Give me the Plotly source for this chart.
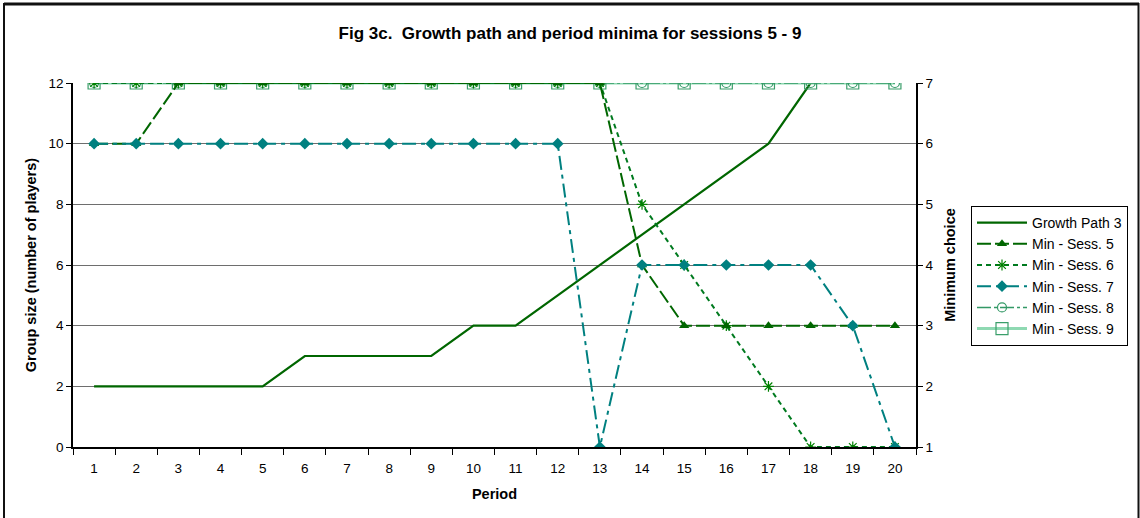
import plotly.graph_objects as go

periods = list(range(1, 21))
growth_path_3 = [2, 2, 2, 2, 2, 3, 3, 3, 3, 4, 4, 5, 6, 7, 8, 9, 10, 12, 12, 12]
min_sess5 = [6, 6, 7, 7, 7, 7, 7, 7, 7, 7, 7, 7, 7, 4, 3, 3, 3, 3, 3, 3]
min_sess6 = [7, 7, 7, 7, 7, 7, 7, 7, 7, 7, 7, 7, 7, 5, 4, 3, 2, 1, 1, 1]
min_sess7 = [6, 6, 6, 6, 6, 6, 6, 6, 6, 6, 6, 6, 1, 4, 4, 4, 4, 4, 3, 1]
min_sess8 = [7] * 20
min_sess9 = [7] * 20

left_ticks = [0, 2, 4, 6, 8, 10, 12]
right_ticks = [1, 2, 3, 4, 5, 6, 7]

FONT = "Liberation Sans, Arial, sans-serif"

fig = go.Figure()

fig.add_trace(go.Scatter(x=periods, y=min_sess9, name="Min - Sess. 9", yaxis="y2",
                         mode="lines+markers",
                         line=dict(color="#8fd9b2", width=3),
                         marker=dict(symbol="square-open", size=12, color="#3a9e6a", line=dict(width=1.2))))
fig.add_trace(go.Scatter(x=periods, y=min_sess8, name="Min - Sess. 8", yaxis="y2",
                         mode="lines+markers",
                         line=dict(color="#339966", width=1.5, dash="14px,3px,3px,3px"),
                         marker=dict(symbol="circle-open", size=9, color="#339966", line=dict(width=1.2))))
fig.add_trace(go.Scatter(x=periods, y=min_sess6, name="Min - Sess. 6", yaxis="y2",
                         mode="lines+markers",
                         line=dict(color="#007a1f", width=2, dash="5px,4px"),
                         marker=dict(symbol="asterisk-open", size=9, color="#008000", line=dict(width=1.2, color="#008000"))))
fig.add_trace(go.Scatter(x=periods, y=min_sess5, name="Min - Sess. 5", yaxis="y2",
                         mode="lines+markers",
                         line=dict(color="#006600", width=2, dash="14px,4px"),
                         marker=dict(symbol="triangle-up", size=9, color="#006600")))
fig.add_trace(go.Scatter(x=periods, y=min_sess7, name="Min - Sess. 7", yaxis="y2",
                         mode="lines+markers",
                         line=dict(color="#008080", width=2, dash="14px,5px,4px,5px"),
                         marker=dict(symbol="diamond", size=9, color="#008080")))
fig.add_trace(go.Scatter(x=periods, y=growth_path_3, name="Growth Path 3", yaxis="y",
                         mode="lines",
                         line=dict(color="#006600", width=2.2)))

# frame around the figure
W0, H0 = 73, 447
PW, PH = 843, 364
def px(x):
    return (x - W0) / PW
def py(y):
    return (H0 - y) / PH

fig.add_shape(type="line", xref="paper", yref="paper", x0=px(4), x1=px(1139), y0=py(4), y1=py(4),
              line=dict(color="#111111", width=3))
fig.add_shape(type="line", xref="paper", yref="paper", x0=px(4), x1=px(4), y0=py(3), y1=py(520),
              line=dict(color="#111111", width=2))
fig.add_shape(type="line", xref="paper", yref="paper", x0=px(1138.5), x1=px(1138.5), y0=py(3), y1=py(520),
              line=dict(color="#111111", width=2))

fig.update_layout(
    width=1140, height=518,
    margin=dict(l=73, r=224, t=83, b=71),
    paper_bgcolor="white", plot_bgcolor="white",
    font=dict(family=FONT, size=13.5, color="black"),
    title=dict(text="<b>Fig 3c.  Growth path and period minima for sessions 5 - 9</b>",
               x=0.5, xref="container", y=1 - 33 / 518, yref="container", yanchor="middle",
               xanchor="center", font=dict(size=17, family=FONT)),
    showlegend=True,
    legend=dict(x=px(971), y=py(206), xanchor="left", yanchor="top",
                bordercolor="black", borderwidth=1, bgcolor="white",
                font=dict(size=14, family=FONT),
                traceorder="normal", tracegroupgap=0, itemwidth=50),
    xaxis=dict(range=[0.5, 20.5], tickvals=periods, ticktext=[str(p) for p in periods],
               ticks="", showgrid=False, zeroline=False,
               showline=True, linecolor="black", linewidth=1.5,
               minor=dict(tickvals=[i + 0.5 for i in range(0, 21)], ticks="outside",
                          ticklen=6, tickcolor="black", tickwidth=1, showgrid=False),
               tickfont=dict(size=13.5), ticklabelstandoff=8,
               title=dict(text="<b>Period</b>", font=dict(size=14.5), standoff=14)),
    yaxis=dict(range=[0, 12], tickvals=left_ticks, ticks="outside", ticklen=5, tickcolor="black",
               showgrid=True, gridcolor="#6e6e6e", gridwidth=1, zeroline=False,
               showline=True, linecolor="black", linewidth=1.5,
               tickfont=dict(size=13.5),
               title=dict(text="<b>Group size (number of players)</b>", font=dict(size=14.5), standoff=8)),
    yaxis2=dict(range=[1, 7], tickvals=right_ticks, overlaying="y", side="right",
                ticks="outside", ticklen=5, tickcolor="black", showgrid=False, zeroline=False,
                showline=True, linecolor="black", linewidth=1.5,
                tickfont=dict(size=13.5),
                title=dict(text="<b>Minimum choice</b>", font=dict(size=14.5), standoff=12)),
)

# legend order as in the reference
order = ["Growth Path 3", "Min - Sess. 5", "Min - Sess. 6", "Min - Sess. 7", "Min - Sess. 8", "Min - Sess. 9"]
for tr in fig.data:
    tr.legendrank = order.index(tr.name) + 1

fig.write_html("out.html", config={"displayModeBar": False})
with open("out.html", "r", encoding="utf-8") as f:
    html = f.read()
html = html.replace("<head>", "<head><style>html,body{margin:0;padding:0;}</style>", 1)
with open("out.html", "w", encoding="utf-8") as f:
    f.write(html)
